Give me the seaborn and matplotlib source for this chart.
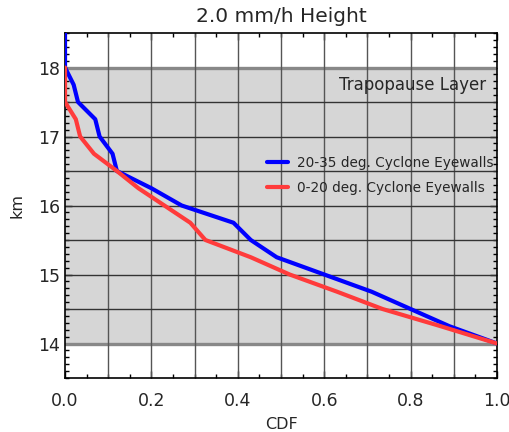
import numpy as np
import pandas as pd
import matplotlib
matplotlib.use("Agg")
import matplotlib.pyplot as plt
import seaborn as sns
from matplotlib.ticker import MultipleLocator

# Height levels (km) and cumulative distributions for each latitude band
heights = [14.0, 14.25, 14.5, 14.75, 15.0, 15.25, 15.5, 15.75, 16.0, 16.25,
           16.5, 16.75, 17.0, 17.25, 17.5, 17.75, 18.0, 18.25, 18.5]
cdf_20_35 = [1.0, 0.89, 0.80, 0.71, 0.60, 0.49, 0.43, 0.39, 0.27, 0.20,
             0.12, 0.11, 0.08, 0.07, 0.03, 0.02, 0.0, 0.0, 0.0]
cdf_0_20 = [1.0, 0.87, 0.735, 0.63, 0.52, 0.43, 0.325, 0.29, 0.23, 0.17,
            0.12, 0.067, 0.035, 0.025, 0.0, 0.0, 0.0]
heights_0_20 = heights[:17]

label_20_35 = "20-35 deg. Cyclone Eyewalls"
label_0_20 = "0-20 deg. Cyclone Eyewalls"

df = pd.concat([
    pd.DataFrame({"CDF": cdf_20_35, "km": heights, "band": label_20_35}),
    pd.DataFrame({"CDF": cdf_0_20, "km": heights_0_20, "band": label_0_20}),
], ignore_index=True)

sns.set_style("ticks")
plt.rcParams["font.family"] = ["DejaVu Sans"]

fig = plt.figure(figsize=(5.10, 4.32), dpi=100)
ax = fig.add_axes([0.1275, 0.125, 0.847, 0.7986])

# Tropopause layer shading and boundaries
ax.axhspan(14, 18, color="#d6d6d6", zorder=0, lw=0)
for yb in (14, 18):
    ax.axhline(yb, color="#888888", lw=2.4, zorder=1)

# Grid: vertical lines across full height, horizontal only inside the layer
for xv in np.arange(0.1, 1.0, 0.1):
    ax.axvline(xv, color="#555555", lw=1.0, zorder=1)
for yv in np.arange(14.5, 18.0, 0.5):
    ax.axhline(yv, color="#333333", lw=1.0, zorder=1)

sns.lineplot(data=df, x="CDF", y="km", hue="band", sort=False, estimator=None,
             palette={label_20_35: "#0000ff", label_0_20: "#ff3b3b"},
             lw=3, ax=ax, zorder=3)

ax.set_xlim(0, 1)
ax.set_ylim(13.5, 18.5)
ax.xaxis.set_major_locator(MultipleLocator(0.2))
ax.xaxis.set_minor_locator(MultipleLocator(0.05))
ax.yaxis.set_major_locator(MultipleLocator(1))
ax.yaxis.set_minor_locator(MultipleLocator(0.1))
ax.xaxis.set_major_formatter(matplotlib.ticker.FormatStrFormatter("%.1f"))
ax.tick_params(which="both", direction="in", top=True, right=True,
               color="black", labelsize=12.5)
ax.tick_params(which="major", length=5, width=1)
ax.tick_params(which="minor", length=3, width=1)
ax.tick_params(axis="x", pad=10)
for s in ax.spines.values():
    s.set_color("black")
    s.set_linewidth(1.2)

ax.set_xlabel("CDF", fontsize=11.5, labelpad=5)
ax.set_ylabel("km", fontsize=11.5, labelpad=10)
ax.set_title("2.0 mm/h Height", fontsize=14.5, pad=8)

ax.text(0.975, 17.75, "Trapopause Layer", ha="right", va="center",
        fontsize=12, zorder=4)

leg = ax.legend(loc="upper left", bbox_to_anchor=(0.44, 0.68), frameon=False,
                fontsize=9.8, handlelength=1.5, handletextpad=0.7,
                labelspacing=0.85)

fig.savefig("out.png", dpi=100)
